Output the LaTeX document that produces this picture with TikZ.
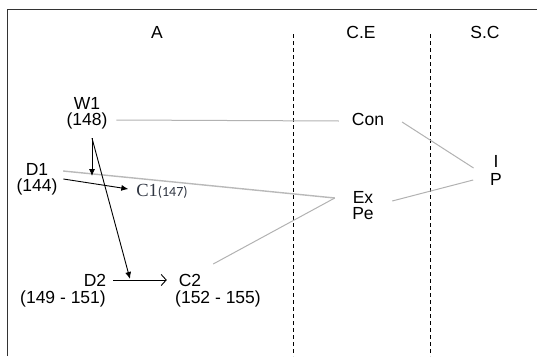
\documentclass[tikz,border=0pt]{standalone}
\usepackage{fontspec}
\setmainfont{Liberation Sans}
\newfontfamily\cfont{Liberation Serif}
\newfontfamily\nfont{Carlito}
\usetikzlibrary{arrows.meta,calc}
\definecolor{cone}{RGB}{48,54,66}
\tikzset{
  lbl/.style={inner sep=0pt,outer sep=0pt,font=\fontsize{17.5}{20}\selectfont},
  frameline/.style={line width=1.2pt,black!80},
  sep/.style={dashed,dash pattern=on 4pt off 3pt,line width=0.8pt},
  link/.style={gray!60,line width=1pt},
  flow/.style={line width=0.9pt,-{Latex[length=7pt,width=6pt]}},
  openflow/.style={line width=0.9pt,-{Straight Barb[length=5pt,width=11pt]}}
}
\begin{document}
\begin{tikzpicture}[x=1pt,y=-1pt]
\useasboundingbox (0,0) rectangle (537,356);
% frame
\coordinate (fb) at (7.5,356);
\coordinate (ftl) at (7.5,9.5);
\coordinate (fr) at (537,9.5);
\draw[frameline] (fb) -- (ftl) -- (fr);
% separators
\coordinate (s1t) at (293,34);
\coordinate (s1b) at (293,356);
\coordinate (s2t) at (430,34);
\coordinate (s2b) at (430,356);
\draw[sep] (s1t) -- (s1b);
\draw[sep] (s2t) -- (s2b);
% headings
\node[lbl] (hA) at (157,32) {A};
\node[lbl] (hCE) at (361,32) {C.E};
\node[lbl] (hSC) at (485,32) {S.C};
% nodes
\node[lbl] (w1) at (87,103) {W1};
\node[lbl] (w1n) at (87,121) {(148)};
\node[lbl] (con) at (368,119) {Con};
\node[lbl] (d1) at (37,169) {D1};
\node[lbl] (d1n) at (37,187) {(144)};
\node[inner sep=0pt,outer sep=0pt,text=cone] (c1) at (162,191)
  {{\cfont\fontsize{18.5}{20}\selectfont C1}{\nfont\fontsize{14}{16}\selectfont(147)}};
\node[lbl] (ex) at (363,197) {Ex};
\node[lbl] (pe) at (363,214) {Pe};
\node[lbl] (iI) at (496,161) {I};
\node[lbl] (pP) at (496,179) {P};
\node[lbl] (d2) at (95,280) {D2};
\node[lbl] (d2n) at (63,299) {(149 - 151)};
\node[lbl] (c2) at (190,280) {C2};
\node[lbl] (c2n) at (218,299) {(152 - 155)};
% gray links
\draw[link] ($(w1n.east)+(9,-1)$) -- ($(con.west)+(-13,2)$);
\draw[link] ($(con.east)+(18,3)$) -- ($(iI.west)+(-20,7)$);
\draw[link] ($(pP.west)+(-17,1)$) -- ($(ex.east)+(19,4)$);
\draw[link,line width=1.4pt,gray!55] ($(d1.east)+(15,2)$) -- ($(ex.west)+(-18,1)$);
\draw[link] ($(c2.east)+(12,-16)$) -- ($(ex.west)+(-18,1)$);
% arrows
\coordinate (wst) at ($(w1n.south)+(5,9)$);
\coordinate (wdn) at (92,176);
\coordinate (wd2) at (130,279);
\draw[flow] (wst) -- (wdn);
\draw[flow] (wst) -- (wd2);
\draw[flow] ($(d1n.east)+(6,-8)$) -- ($(c1.west)+(-8,-2)$);
\draw[openflow] ($(d2.east)+(7,0)$) -- ($(c2.west)+(-12,0)$);
\end{tikzpicture}
\end{document}
